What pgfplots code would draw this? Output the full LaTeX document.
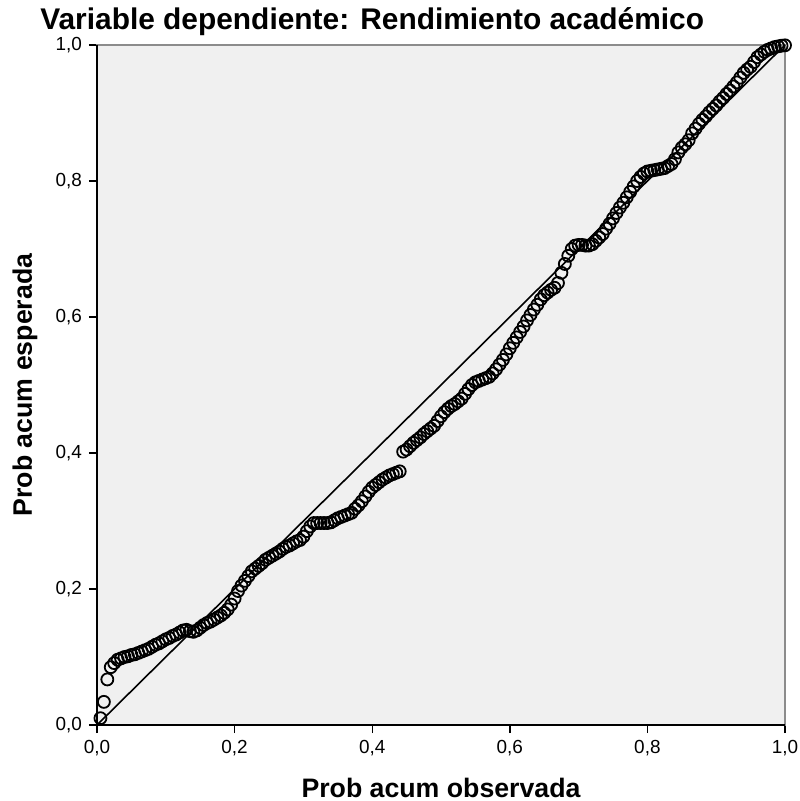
\documentclass[border=0pt]{standalone}
\usepackage{fontspec}
\setmainfont{Liberation Sans}
\usepackage{pgfplots}
\pgfplotsset{compat=1.18}
\usepackage{pgfplotstable}
\definecolor{bg}{HTML}{F0F0F0}
\definecolor{frame}{HTML}{8C8C8C}
\pgfplotstableread{
x y
0.005 0.010
0.010 0.034
0.015 0.067
0.020 0.085
0.025 0.091
0.030 0.096
0.035 0.098
0.040 0.100
0.045 0.101
0.050 0.103
0.055 0.104
0.060 0.106
0.065 0.108
0.070 0.110
0.075 0.112
0.080 0.115
0.085 0.118
0.090 0.120
0.095 0.123
0.100 0.126
0.105 0.128
0.110 0.131
0.115 0.133
0.120 0.136
0.125 0.139
0.130 0.140
0.135 0.138
0.140 0.137
0.145 0.139
0.150 0.143
0.155 0.147
0.160 0.150
0.165 0.152
0.170 0.155
0.175 0.158
0.180 0.161
0.185 0.165
0.190 0.170
0.195 0.177
0.200 0.186
0.205 0.197
0.210 0.205
0.215 0.212
0.220 0.219
0.225 0.226
0.230 0.230
0.235 0.234
0.240 0.238
0.245 0.243
0.250 0.246
0.255 0.249
0.260 0.252
0.265 0.255
0.270 0.259
0.275 0.262
0.280 0.264
0.285 0.267
0.290 0.270
0.295 0.272
0.300 0.277
0.305 0.285
0.310 0.292
0.315 0.297
0.320 0.297
0.325 0.297
0.330 0.297
0.335 0.297
0.340 0.298
0.345 0.301
0.350 0.304
0.355 0.306
0.360 0.308
0.365 0.310
0.370 0.312
0.375 0.318
0.380 0.323
0.385 0.329
0.390 0.336
0.395 0.343
0.400 0.349
0.405 0.353
0.410 0.357
0.415 0.361
0.420 0.364
0.425 0.367
0.430 0.369
0.435 0.371
0.440 0.373
0.445 0.402
0.450 0.405
0.455 0.410
0.460 0.415
0.465 0.419
0.470 0.423
0.475 0.428
0.480 0.432
0.485 0.436
0.490 0.440
0.495 0.447
0.500 0.454
0.505 0.460
0.510 0.465
0.515 0.469
0.520 0.472
0.525 0.476
0.530 0.480
0.535 0.487
0.540 0.494
0.545 0.500
0.550 0.504
0.555 0.506
0.560 0.508
0.565 0.510
0.570 0.512
0.575 0.517
0.580 0.523
0.585 0.530
0.590 0.537
0.595 0.545
0.600 0.554
0.605 0.562
0.610 0.570
0.615 0.578
0.620 0.586
0.625 0.595
0.630 0.603
0.635 0.611
0.640 0.618
0.645 0.626
0.650 0.632
0.655 0.636
0.660 0.640
0.665 0.643
0.670 0.650
0.675 0.665
0.680 0.678
0.685 0.690
0.690 0.700
0.695 0.705
0.700 0.706
0.705 0.706
0.710 0.705
0.715 0.705
0.720 0.707
0.725 0.712
0.730 0.717
0.735 0.722
0.740 0.730
0.745 0.737
0.750 0.745
0.755 0.753
0.760 0.761
0.765 0.768
0.770 0.776
0.775 0.784
0.780 0.792
0.785 0.800
0.790 0.806
0.795 0.811
0.800 0.814
0.805 0.815
0.810 0.816
0.815 0.817
0.820 0.818
0.825 0.819
0.830 0.822
0.835 0.825
0.840 0.832
0.845 0.842
0.850 0.849
0.855 0.854
0.860 0.860
0.865 0.870
0.870 0.877
0.875 0.884
0.880 0.890
0.885 0.895
0.890 0.901
0.895 0.906
0.900 0.911
0.905 0.917
0.910 0.922
0.915 0.928
0.920 0.933
0.925 0.939
0.930 0.945
0.935 0.952
0.940 0.959
0.945 0.964
0.950 0.968
0.955 0.975
0.960 0.982
0.965 0.986
0.970 0.990
0.975 0.993
0.980 0.995
0.985 0.997
0.990 0.998
0.995 0.999
1.000 0.9995
}\ppdata
\begin{document}
\begin{tikzpicture}
\begin{axis}[
  scale only axis,
  width=344bp, height=340bp,
  xmin=0, xmax=1, ymin=0, ymax=1,
  clip=false,
  axis background/.style={fill=bg},
  axis line style={draw=frame, line width=0.9bp},
  xtick={0,0.2,0.4,0.6,0.8,1.0},
  ytick={0,0.2,0.4,0.6,0.8,1.0},
  tick pos=left,
  tick align=outside,
  major tick length=4bp,
  tick style={black, line width=0.7bp},
  /pgf/number format/.cd, fixed, fixed zerofill, precision=1, use comma, assume math mode=true,
  /pgfplots/.cd,
  tick label style={font=\fontsize{9.5}{10}\selectfont},
]
\coordinate (O) at (rel axis cs:0,0);
\draw[black, line width=0.9bp] (rel axis cs:0,1) -- (rel axis cs:0,0) -- (rel axis cs:1,0);
\addplot[only marks, mark=o, mark size=3bp, mark options={black, line width=0.9bp}] table[x=x,y=y] {\ppdata};
\addplot[black, line width=0.8bp, no marks] coordinates {(0,0) (1,1)};
\node[anchor=base west, inner sep=0, font=\bfseries\fontsize{15}{17}\selectfont] at ([yshift=7.5bp]rel axis cs:-0.083,1) {Variable dependiente: Rendimiento académico};
\node[rotate=90, inner sep=0, font=\bfseries\fontsize{13.4}{15}\selectfont] at ([xshift=-36bp]rel axis cs:0,0.5) {Prob acum esperada};
\node[anchor=base, inner sep=0, font=\bfseries\fontsize{13.4}{15}\selectfont] at ([yshift=-36bp]rel axis cs:0.5,0) {Prob acum observada};
\end{axis}
\pgfresetboundingbox
\path (O) ++(-48.5bp,-38bp) rectangle ++(400bp,400.5bp);
\end{tikzpicture}
\end{document}
